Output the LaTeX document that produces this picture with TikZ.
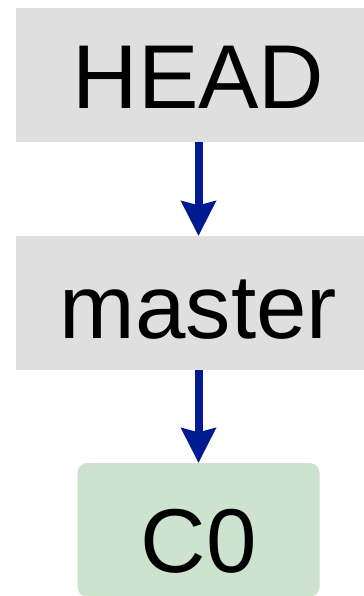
\documentclass[tikz,border=0pt]{standalone}
\usepackage{fontspec}
\setmainfont{Liberation Sans}
\usetikzlibrary{arrows.meta}
\definecolor{refgray}{RGB}{223,223,223}
\definecolor{commitgreen}{RGB}{205,227,206}
\definecolor{pointerblue}{RGB}{0,26,146}
\tikzset{
    branch/.style={fill=refgray, inner sep=0pt, outer sep=0pt, minimum width=273.75pt, minimum height=100.5pt, text depth=0pt, font=\fontsize{68}{80}\selectfont},
    commit/.style={fill=commitgreen, rounded corners=7.5pt, inner sep=0pt, outer sep=0pt, minimum width=181.5pt, minimum height=100.5pt, text depth=0pt, font=\fontsize{68}{80}\selectfont},
    pointer/.style={draw=pointerblue, line width=6pt, -{Stealth[length=26pt, width=25.5pt, inset=3pt]}}
}

\begin{document}
\begin{tikzpicture}[x=0.75pt,y=0.75pt,yscale=-1,xscale=1]
    \useasboundingbox (0,0) rectangle (364,596);
    \clip (0,0) rectangle (364,596);
    \node [branch, text height=50pt] (head) at (198.5,75) {HEAD};
    \node [branch, text height=52.5pt] (master) at (198.5,303) {master};
    \node [commit, text height=63pt] (c0) at (198.5,530) {C0};
    \draw [pointer] (head.south) -- (master.north);
    \draw [pointer] (master.south) -- (c0.north);
\end{tikzpicture}
\end{document}
